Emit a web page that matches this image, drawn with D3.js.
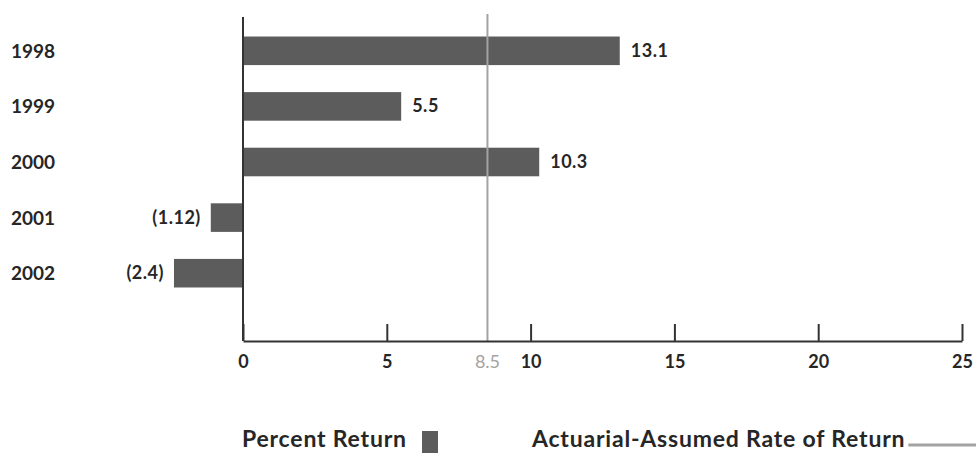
<!DOCTYPE html>
<html>
<head>
<meta charset="utf-8">
<script src="https://cdn.jsdelivr.net/npm/d3@7"></script>
<style>
  html, body { margin: 0; padding: 0; background: #fff; }
  svg text { font-family: Lato, "Open Sans", sans-serif; }
</style>
</head>
<body>
<svg id="chart" width="976" height="453"></svg>
<script>
// Annual percent return by year, with the actuarial-assumed rate of return
const years = ["1998", "1999", "2000", "2001", "2002"];
const percentReturn = [13.1, 5.5, 10.3, -1.12, -2.4];
const returnLabels = ["13.1", "5.5", "10.3", "(1.12)", "(2.4)"];
const assumedRate = 8.5;
const assumedRateLabel = "8.5";
const tickValues = [0, 5, 10, 15, 20, 25];
const legendLabels = ["Percent Return", "Actuarial-Assumed Rate of Return"];

const barColor = "#5c5c5c";
const inkColor = "#262626";
const rateColor = "#a3a3a3";

const svg = d3.select("#chart");

const x = d3.scaleLinear().domain([0, 25]).range([243, 962]);
const y = d3.scaleBand().domain(years).range([23, 301])
  .paddingInner(0.486).paddingOuter(0.243);
const axisY = 341;

const rows = years.map((yr, i) => ({ yr, v: percentReturn[i], label: returnLabels[i] }));

// Bars
svg.append("g").selectAll("rect")
  .data(rows)
  .join("rect")
  .attr("x", d => Math.min(x(0), x(d.v)))
  .attr("y", d => y(d.yr))
  .attr("width", d => Math.abs(x(d.v) - x(0)))
  .attr("height", y.bandwidth())
  .attr("fill", barColor);

// Value labels
svg.append("g").selectAll("text")
  .data(rows)
  .join("text")
  .attr("x", d => d.v >= 0 ? x(d.v) + 11 : x(d.v) - 10)
  .attr("y", d => y(d.yr) + y.bandwidth() / 2 + 6)
  .attr("text-anchor", d => d.v >= 0 ? "start" : "end")
  .attr("font-size", 18)
  .attr("font-weight", 700)
  .attr("letter-spacing", 0.5)
  .attr("fill", inkColor)
  .text(d => d.label);

// Year labels
svg.append("g").selectAll("text")
  .data(years)
  .join("text")
  .attr("x", 11)
  .attr("y", d => y(d) + y.bandwidth() / 2 + 7)
  .attr("font-size", 19)
  .attr("font-weight", 700)
  .attr("fill", inkColor)
  .text(d => d);

// Assumed rate reference line
svg.append("line")
  .attr("x1", x(assumedRate)).attr("x2", x(assumedRate))
  .attr("y1", 14).attr("y2", axisY)
  .attr("stroke", rateColor).attr("stroke-width", 2);

// Vertical zero axis
svg.append("line")
  .attr("x1", x(0)).attr("x2", x(0))
  .attr("y1", 17).attr("y2", axisY)
  .attr("stroke", "#333").attr("stroke-width", 2);

// Horizontal value axis with ticks rising from the baseline
const xAxis = d3.axisBottom(x)
  .tickValues(tickValues)
  .tickFormat(d3.format("d"))
  .tickSize(-17)
  .tickSizeOuter(0)
  .tickPadding(14);

const gx = svg.append("g")
  .attr("transform", `translate(0,${axisY})`)
  .call(xAxis);
gx.select(".domain").attr("stroke", "#333").attr("stroke-width", 2);
gx.selectAll(".tick line").attr("stroke", "#333").attr("stroke-width", 2);
gx.selectAll(".tick text")
  .attr("font-family", "Lato, 'Open Sans', sans-serif")
  .attr("font-size", 18)
  .attr("font-weight", 700)
  .attr("fill", inkColor);

// Assumed rate value on the axis
gx.append("text")
  .attr("x", x(assumedRate))
  .attr("y", 14)
  .attr("dy", "0.71em")
  .attr("text-anchor", "middle")
  .attr("font-family", "Lato, 'Open Sans', sans-serif")
  .attr("font-size", 18)
  .attr("font-weight", 400)
  .attr("fill", rateColor)
  .text(assumedRateLabel);

// Legend
const legend = svg.append("g");
legend.append("text")
  .attr("x", 242).attr("y", 447)
  .attr("font-size", 23).attr("font-weight", 700)
  .attr("letter-spacing", 0.8)
  .attr("fill", inkColor)
  .text(legendLabels[0]);
legend.append("rect")
  .attr("x", 422).attr("y", 431)
  .attr("width", 16).attr("height", 22)
  .attr("fill", barColor);
const rateText = legend.append("text")
  .attr("x", 532).attr("y", 447)
  .attr("font-size", 23).attr("font-weight", 700)
  .attr("letter-spacing", 0.8)
  .attr("fill", inkColor)
  .text(legendLabels[1]);
const rtEnd = 532 + rateText.node().getComputedTextLength();
legend.append("line")
  .attr("x1", rtEnd + 3).attr("x2", 976)
  .attr("y1", 445).attr("y2", 445)
  .attr("stroke", rateColor).attr("stroke-width", 3);
</script>
</body>
</html>
